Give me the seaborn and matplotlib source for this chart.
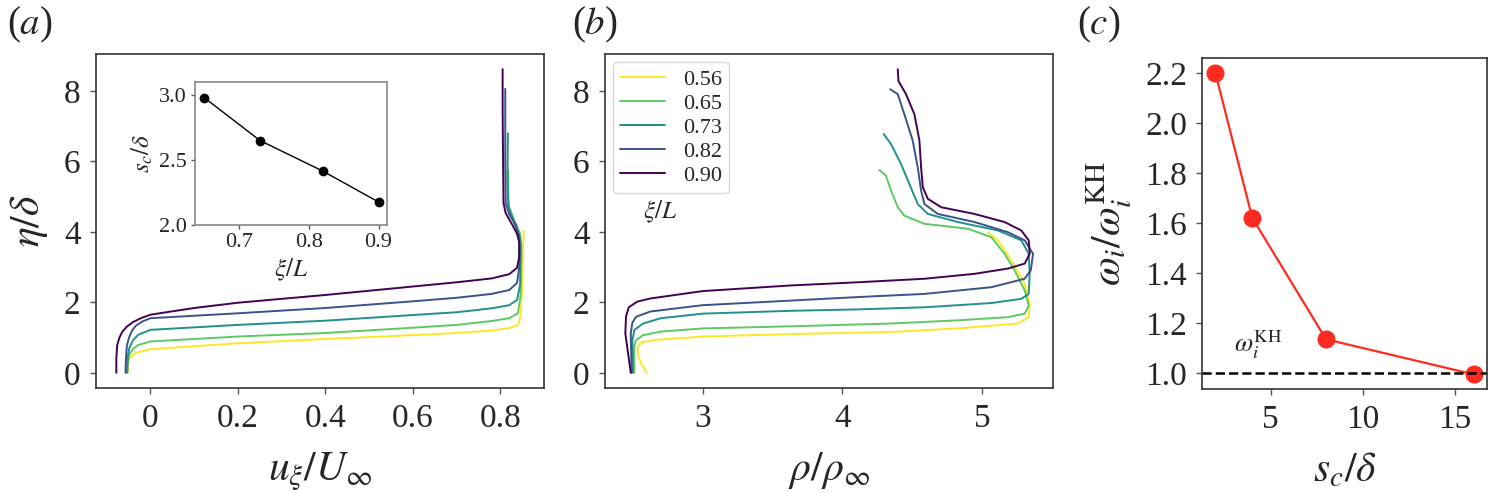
import numpy as np
import pandas as pd
import matplotlib
matplotlib.use("Agg")
import matplotlib.pyplot as plt
import seaborn as sns

# ---- data ----
xi_labels = ["0.56", "0.65", "0.73", "0.82", "0.90"]

# (a) streamwise velocity profiles u_xi/U_inf vs eta/delta
u_056 = [-0.052, -0.051, -0.047, -0.040, -0.030, 0.0, 0.2, 0.4, 0.6, 0.7, 0.78, 0.82, 0.841, 0.846, 0.850, 0.853]
eta_u_056 = [0.0, 0.25, 0.42, 0.52, 0.58, 0.67, 0.84, 0.96, 1.07, 1.13, 1.20, 1.27, 1.36, 1.60, 2.50, 4.03]
u_065 = [-0.053, -0.052, -0.048, -0.040, -0.028, 0.0, 0.2, 0.4, 0.6, 0.7, 0.78, 0.82, 0.840, 0.846, 0.848, 0.845, 0.833, 0.820, 0.818, 0.818]
eta_u_065 = [0.0, 0.30, 0.52, 0.68, 0.79, 0.89, 1.03, 1.13, 1.28, 1.36, 1.47, 1.55, 1.69, 2.20, 3.60, 3.95, 4.30, 4.70, 5.00, 5.76]
u_073 = [-0.053, -0.052, -0.048, -0.040, -0.028, 0.0, 0.2, 0.4, 0.6, 0.7, 0.78, 0.82, 0.838, 0.845, 0.846, 0.843, 0.830, 0.818, 0.816, 0.817]
eta_u_073 = [0.0, 0.45, 0.72, 0.92, 1.08, 1.22, 1.36, 1.48, 1.64, 1.72, 1.83, 1.92, 2.07, 2.50, 3.50, 3.90, 4.30, 4.72, 5.50, 6.80]
u_082 = [-0.057, -0.056, -0.054, -0.049, -0.042, -0.033, -0.018, 0.0, 0.1, 0.2, 0.4, 0.6, 0.7, 0.78, 0.82, 0.838, 0.843, 0.843, 0.835, 0.820, 0.812, 0.811, 0.811]
eta_u_082 = [0.0, 0.40, 0.76, 1.00, 1.20, 1.34, 1.46, 1.55, 1.62, 1.69, 1.84, 2.03, 2.13, 2.24, 2.35, 2.55, 3.00, 3.86, 4.20, 4.50, 4.82, 6.00, 8.06]
u_090 = [-0.078, -0.078, -0.076, -0.071, -0.064, -0.054, -0.040, -0.022, 0.0, 0.1, 0.2, 0.4, 0.6, 0.7, 0.78, 0.82, 0.838, 0.843, 0.843, 0.838, 0.825, 0.812, 0.807, 0.806, 0.805, 0.805]
eta_u_090 = [0.0, 0.40, 0.78, 1.00, 1.17, 1.31, 1.44, 1.55, 1.65, 1.84, 1.99, 2.21, 2.45, 2.57, 2.68, 2.80, 2.98, 3.30, 3.70, 3.95, 4.25, 4.53, 4.82, 6.00, 7.50, 8.62]

# (b) density profiles rho/rho_inf vs eta/delta
rho_056 = [2.598, 2.560, 2.534, 2.534, 2.560, 2.650, 3.0, 3.63, 4.349, 4.828, 5.259, 5.335, 5.342, 5.306, 5.211, 5.115, 5.043]
eta_r_056 = [0.0, 0.25, 0.50, 0.72, 0.86, 0.93, 1.03, 1.10, 1.16, 1.26, 1.40, 1.58, 1.96, 2.53, 3.19, 3.76, 3.99]
rho_065 = [2.509, 2.509, 2.520, 2.573, 2.700, 3.0, 3.63, 4.349, 4.828, 5.187, 5.306, 5.335, 5.306, 5.234, 5.162, 5.067, 4.899, 4.588, 4.444, 4.397, 4.349, 4.312, 4.265]
eta_r_065 = [0.0, 0.74, 0.92, 1.07, 1.17, 1.26, 1.32, 1.40, 1.49, 1.58, 1.68, 1.91, 2.34, 2.91, 3.38, 3.85, 4.09, 4.23, 4.46, 4.70, 5.17, 5.60, 5.76]
rho_073 = [2.500, 2.496, 2.510, 2.573, 2.700, 3.0, 3.63, 4.109, 4.588, 5.067, 5.282, 5.335, 5.342, 5.335, 5.282, 5.115, 4.828, 4.612, 4.540, 4.480, 4.420, 4.349, 4.296]
eta_r_073 = [0.0, 0.93, 1.22, 1.40, 1.55, 1.68, 1.76, 1.80, 1.86, 1.98, 2.10, 2.24, 2.81, 3.38, 3.76, 4.04, 4.28, 4.51, 4.79, 5.36, 5.93, 6.49, 6.78]
rho_082 = [2.490, 2.484, 2.495, 2.522, 2.624, 3.0, 3.63, 4.109, 4.588, 5.067, 5.306, 5.350, 5.366, 5.306, 5.187, 4.947, 4.684, 4.588, 4.564, 4.540, 4.504, 4.444, 4.397, 4.343]
eta_r_082 = [0.0, 1.12, 1.42, 1.59, 1.74, 1.92, 2.05, 2.15, 2.24, 2.43, 2.67, 2.91, 3.38, 3.76, 3.99, 4.28, 4.51, 4.79, 5.17, 5.83, 6.59, 7.34, 7.91, 8.05]
rho_090 = [2.484, 2.445, 2.450, 2.470, 2.530, 2.624, 3.0, 3.63, 4.109, 4.588, 4.947, 5.187, 5.306, 5.342, 5.335, 5.282, 5.162, 4.947, 4.708, 4.612, 4.576, 4.564, 4.552, 4.516, 4.456, 4.402, 4.397]
eta_r_090 = [0.0, 1.12, 1.60, 1.86, 2.02, 2.11, 2.32, 2.48, 2.57, 2.67, 2.81, 2.96, 3.10, 3.38, 3.76, 4.04, 4.28, 4.51, 4.70, 4.94, 5.27, 5.83, 6.59, 7.34, 7.91, 8.28, 8.62]

# inset: s_c/delta vs xi/L
inset_xi = [0.65, 0.73, 0.82, 0.90]
inset_sc = [2.98, 2.65, 2.415, 2.177]

# (c) growth rate ratio vs s_c/delta
sc_delta = [2, 4, 8, 16]
omega_ratio = [2.20, 1.621, 1.136, 0.996]

a_xticks = [0, 0.2, 0.4, 0.6, 0.8]
a_xticklabels = ["0", "0.2", "0.4", "0.6", "0.8"]
eta_ticks = [0, 2, 4, 6, 8]
b_xticks = [3, 4, 5]
inset_xticks = [0.7, 0.8, 0.9]
inset_yticks = [2.0, 2.5, 3.0]
c_xticks = [5, 10, 15]
c_yticks = [1.0, 1.2, 1.4, 1.6, 1.8, 2.0, 2.2]

# ---- long-form tables ----
u_list = [u_056, u_065, u_073, u_082, u_090]
eta_u_list = [eta_u_056, eta_u_065, eta_u_073, eta_u_082, eta_u_090]
rho_list = [rho_056, rho_065, rho_073, rho_082, rho_090]
eta_r_list = [eta_r_056, eta_r_065, eta_r_073, eta_r_082, eta_r_090]

df_u = pd.concat([pd.DataFrame({'xi': lab, 'u': u, 'eta': e})
                  for lab, u, e in zip(xi_labels, u_list, eta_u_list)], ignore_index=True)
df_r = pd.concat([pd.DataFrame({'xi': lab, 'rho': r, 'eta': e})
                  for lab, r, e in zip(xi_labels, rho_list, eta_r_list)], ignore_index=True)

# ---- style ----
sns.set_theme(style="ticks")
plt.rcParams['font.family'] = ['Liberation Serif', 'DejaVu Serif']
plt.rcParams['mathtext.fontset'] = 'stix'

viridis = plt.get_cmap('viridis')
colors = [viridis(v) for v in [1.0, 0.75, 0.5, 0.25, 0.0]]
pal = dict(zip(xi_labels, colors))
red = '#fe2c20'

fig = plt.figure(figsize=(14.9, 4.93), dpi=100)
ax_a = fig.add_axes([0.0644, 0.213, 0.3007, 0.6775])
ax_b = fig.add_axes([0.406, 0.213, 0.301, 0.6775])
ax_c = fig.add_axes([0.807, 0.210, 0.1907, 0.673])
ax_in = fig.add_axes([0.1312, 0.5436, 0.1287, 0.290])

TICK = 24
LAB = 30


def style_axes(ax, spine_color='#333333', size=TICK):
    for s in ax.spines.values():
        s.set_color(spine_color)
        s.set_linewidth(1.2)
    ax.tick_params(direction='out', length=4, width=1, color='#555555',
                   labelsize=size, pad=7)


# (a)
sns.lineplot(data=df_u, x='u', y='eta', hue='xi', hue_order=xi_labels, palette=pal,
             sort=False, estimator=None, legend=False, linewidth=1.4, ax=ax_a)
ax_a.set_xticks(a_xticks)
ax_a.set_xticklabels(a_xticklabels)
ax_a.set_yticks(eta_ticks)
ax_a.set_xlabel(r'$u_\xi/U_\infty$', fontsize=LAB, labelpad=12)
ax_a.set_ylabel(r'$\eta/\delta$', fontsize=LAB, labelpad=10)
style_axes(ax_a)

# inset
sns.lineplot(x=inset_xi, y=inset_sc, color='black', marker='o', markersize=7,
             markeredgewidth=0, linewidth=1.0, ax=ax_in)
ax_in.set_xticks(inset_xticks)
ax_in.set_yticks(inset_yticks)
ax_in.set_ylim(2.0, 3.1)
ax_in.set_xlabel(r'$\xi/L$', fontsize=18, labelpad=3)
ax_in.set_ylabel(r'$s_c/\delta$', fontsize=18, labelpad=3)
style_axes(ax_in, spine_color='#888888', size=16)
ax_in.tick_params(pad=3, length=3)

# (b)
sns.lineplot(data=df_r, x='rho', y='eta', hue='xi', hue_order=xi_labels, palette=pal,
             sort=False, estimator=None, linewidth=1.4, ax=ax_b)
ax_b.set_xticks(b_xticks)
ax_b.set_yticks(eta_ticks)
ax_b.set_xlabel(r'$\rho/\rho_\infty$', fontsize=LAB, labelpad=12)
ax_b.set_ylabel('')
style_axes(ax_b)
handles, labels = ax_b.get_legend_handles_labels()
ax_b.legend(handles, labels, loc='upper left', fontsize=16, handlelength=2.0,
            borderaxespad=0.35, labelspacing=0.15, borderpad=0.35)
ax_b.text(0.085, 0.527, r'$\xi/L$', transform=ax_b.transAxes, fontsize=18, va='center')

# (c)
sns.lineplot(x=sc_delta, y=omega_ratio, color=red, marker='o', markersize=13,
             markeredgewidth=0, linewidth=1.6, ax=ax_c)
ax_c.axhline(1.0, color='black', linestyle='--', linewidth=1.8)
ax_c.set_xticks(c_xticks)
ax_c.set_yticks(c_yticks)
ax_c.set_xlabel(r'$s_c/\delta$', fontsize=LAB, labelpad=12)
ax_c.set_ylabel(r'$\omega_i/\omega_i^{\mathrm{KH}}$', fontsize=LAB, labelpad=8)
ax_c.text(3.0, 1.05, r'$\omega_i^{\mathrm{KH}}$', fontsize=19, ha='left', va='bottom')
style_axes(ax_c)

# panel letters
for xpos, letter in [(0.005, 'a'), (0.384, 'b'), (0.723, 'c')]:
    fig.text(xpos, 0.99, '(' + '$' + letter + '$' + ')', fontsize=28, va='top', ha='left')

fig.savefig('out.png', dpi=100)
